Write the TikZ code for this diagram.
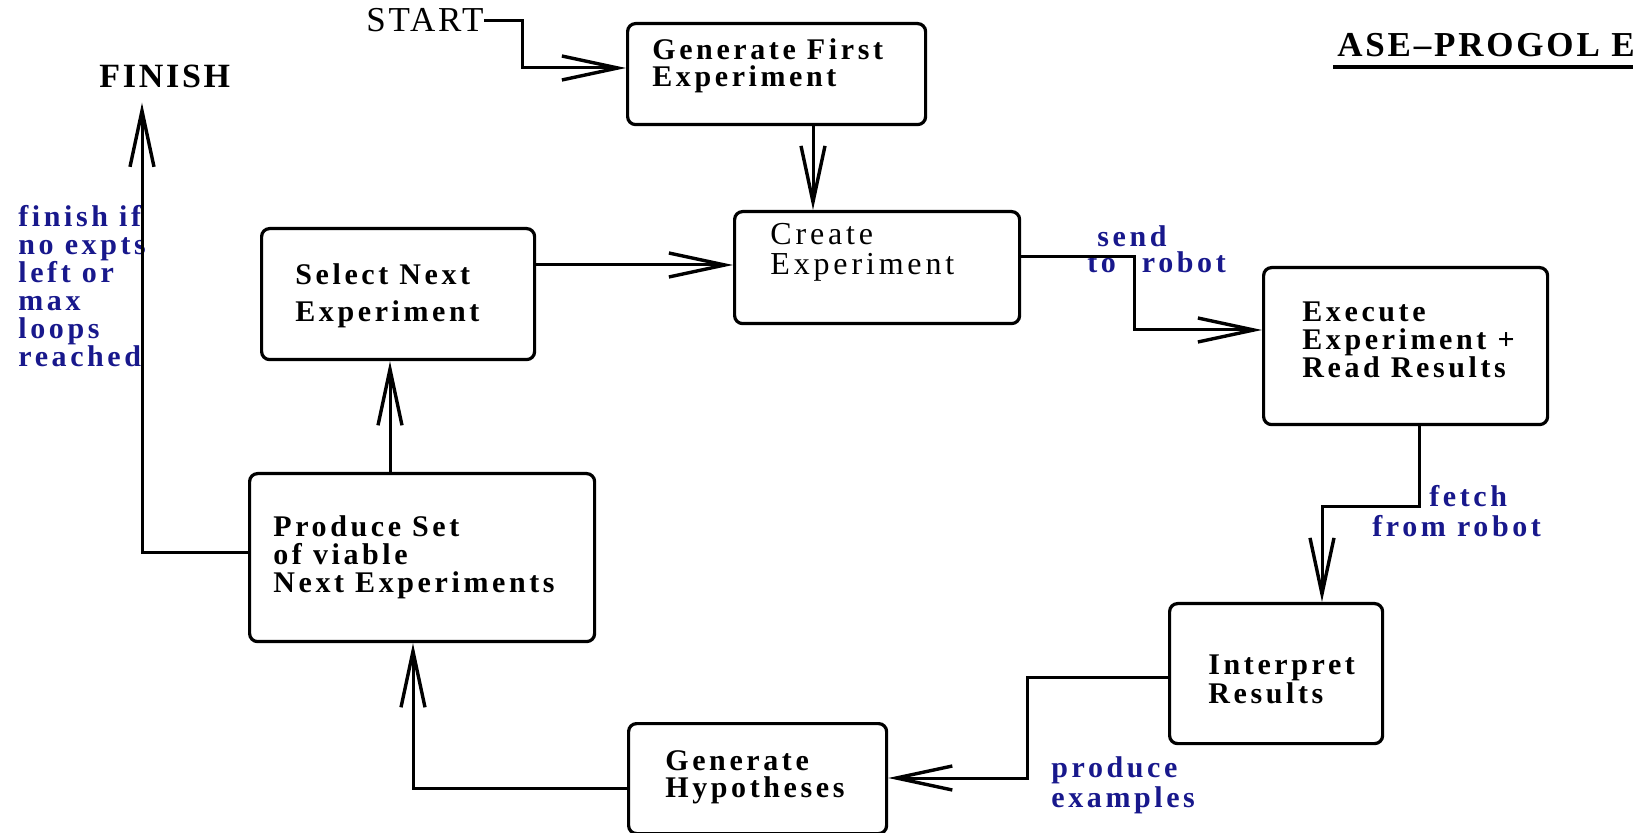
\documentclass[tikz,border=0pt]{standalone}
\usepackage{fontspec}
\setmainfont{Liberation Serif}
\newfontfamily\lbs[LetterSpace=12]{Liberation Serif}
\newfontfamily\lbw[LetterSpace=8]{Liberation Serif}
\usetikzlibrary{arrows.meta,calc}
\definecolor{lblue}{RGB}{24,24,140}
\begin{document}
\begin{tikzpicture}[x=0.5pt,y=-0.5pt,
  box/.style={draw,line width=1.6pt,rounded corners=4pt,inner sep=0pt,anchor=north west},
  txt/.style={inner sep=0pt,anchor=base west,align=left},
  bt/.style={txt,font=\lbs\bfseries\fontsize{15}{14}\selectfont},
  lbl/.style={bt,text=lblue},
  conn/.style={line width=1.5pt},
  arr/.style={conn,-{Straight Barb[length=28pt,width=12pt,line width=1.7pt]}}]
\useasboundingbox (0,0) rectangle (1633,833);
\clip (0,0) rectangle (1633,833);
% boxes
\node[box,minimum width=149pt,minimum height=50.5pt] (gen) at (626,22) {};
\node[box,minimum width=142.5pt,minimum height=56pt] (create) at (733,210) {};
\node[box,minimum width=136.5pt,minimum height=65.5pt] (select) at (260,227) {};
\node[box,minimum width=142pt,minimum height=78.5pt] (execute) at (1262,266) {};
\node[box,minimum width=106.5pt,minimum height=70pt] (interp) at (1168,602) {};
\node[box,minimum width=129pt,minimum height=55pt] (genhyp) at (627,722) {};
\node[box,minimum width=172.5pt,minimum height=84pt] (produce) at (248,472) {};
% box texts (anchored at the baseline of the last line)
\node[bt,font=\lbs\bfseries\fontsize{15}{13.5}\selectfont] (gentx) at (652,87) {Generate First\\Experiment};
\node[txt,font=\lbs\fontsize{16}{15}\selectfont] (createtx) at (770,275) {Create\\Experiment};
\node[bt,font=\lbs\bfseries\fontsize{15}{18.5}\selectfont] (selecttx) at (295,322) {Select Next\\Experiment};
\node[bt,font=\lbs\bfseries\fontsize{15}{14}\selectfont] (producetx) at (273,593) {Produce Set\\of viable\\Next Experiments};
\node[bt,font=\lbs\bfseries\fontsize{15}{14}\selectfont] (executetx) at (1302,378) {Execute\\Experiment +\\Read Results};
\node[bt,font=\lbs\bfseries\fontsize{15}{13}\selectfont] (interptx) at (1208,704) {Interpret\\Results};
\node[bt,font=\lbs\bfseries\fontsize{15}{13.5}\selectfont] (genhyptx) at (665,797) {Generate\\Hypotheses};
% free texts
\node[txt,font=\lbw\bfseries\fontsize{17}{15}\selectfont] (finish) at (99,88) {FINISH};
\node[txt,font=\lbw\fontsize{17.5}{15}\selectfont] (start) at (366,32) {START};
\node[txt,font=\lbw\bfseries\fontsize{17.5}{15}\selectfont] (title) at (1337,57) {ASE–PROGOL E};
\draw[line width=2pt] ([xshift=-2pt]title.west |- 0,67) -- ++(320,0);
% labels
\node[lbl] (finishlbl) at (18,367) {finish if\\no expts\\left or\\max\\loops\\reached};
\node[lbl,font=\lbs\bfseries\fontsize{15}{13}\selectfont] (sendlbl) at (1087,273) {\hspace*{5pt}send\\to\hspace{13pt}robot};
\node[lbl,font=\lbs\bfseries\fontsize{15}{15}\selectfont] (fetchlbl) at (1372,537) {\hspace*{28.5pt}fetch\\from robot};
\node[lbl,font=\lbs\bfseries\fontsize{15}{13.5}\selectfont] (prodlbl) at (1051,807) {produce\\examples};
% connectors
\draw[arr] (start.east) -- ++(39,0) |- (gen.west |- 0,68);
\draw[arr] (gen.south -| 813,0) -- (create.north -| 813,0);
\draw[arr] (select.east |- 0,265) -- (create.west |- 0,265);
\draw[arr] (create.east |- 0,257) -- (1134,257) |- (execute.west |- 0,330);
\draw[arr] (execute.south -| 1419,0) -- (1419,507) -| (interp.north -| 1322,0);
\draw[arr] (interp.west |- 0,677) -- (1027,677) |- (genhyp.east |- 0,778);
\draw[arr] (genhyp.west |- 0,788) -| (produce.south -| 413,0);
\draw[arr] (produce.north -| 390,0) -- (select.south -| 390,0);
\draw[arr,shorten >=7pt] (produce.west |- 0,553) -| (finish.south -| 142,0);
\end{tikzpicture}
\end{document}
